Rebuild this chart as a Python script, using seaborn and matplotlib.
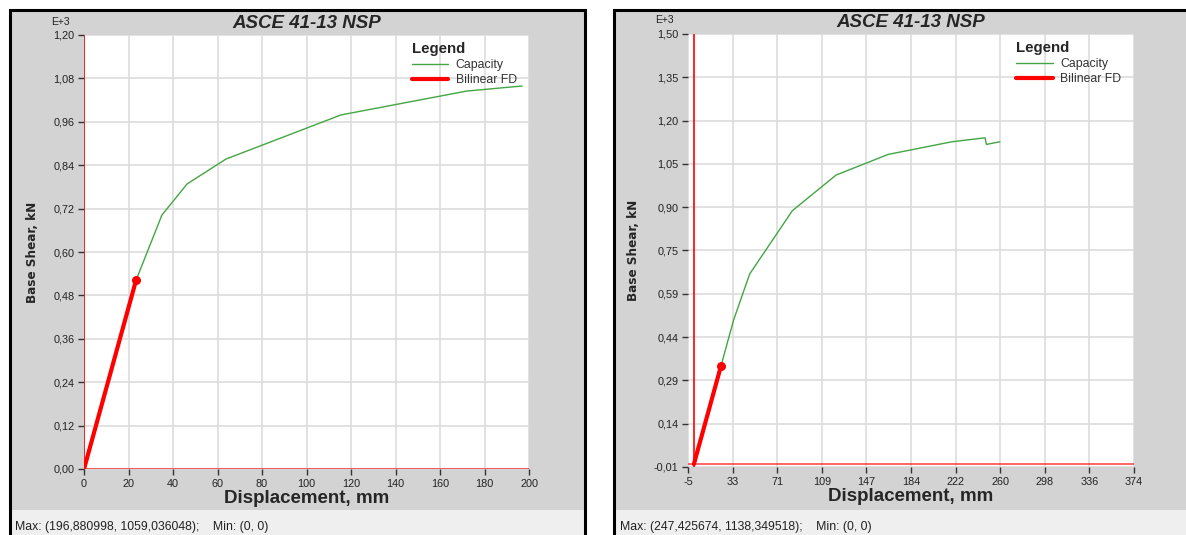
import numpy as np
import pandas as pd
import matplotlib
matplotlib.use("Agg")
import matplotlib.pyplot as plt
import seaborn as sns
from matplotlib.patches import Rectangle
from matplotlib.ticker import FixedLocator, FixedFormatter
from matplotlib import font_manager as fm

# ---------------- data (displacement mm, base shear kN x1000) ----------------
left_cap_disp = [0.0, 23.4, 35.0, 46.3, 63.8, 115.5, 172.0, 196.9]
left_cap_shear = [0.0, 0.522, 0.702, 0.788, 0.857, 0.979, 1.045, 1.059]
left_bil_disp = [0.0, 23.4]
left_bil_shear = [0.0, 0.522]

right_cap_disp = [0.0, 23.0, 33.8, 47.4, 83.7, 120.8, 165.0, 219.0, 247.4, 248.6, 260.0]
right_cap_shear = [0.0, 0.342, 0.503, 0.663, 0.884, 1.008, 1.080, 1.124, 1.138, 1.115, 1.124]
right_bil_disp = [0.0, 23.0]
right_bil_shear = [0.0, 0.342]

left_xtick_labels = ["0", "20", "40", "60", "80", "100", "120", "140", "160", "180", "200"]
left_ytick_labels = ["0,00", "0,12", "0,24", "0,36", "0,48", "0,60", "0,72", "0,84", "0,96", "1,08", "1,20"]
right_xtick_labels = ["-5", "33", "71", "109", "147", "184", "222", "260", "298", "336", "374"]
right_ytick_labels = ["-0,01", "0,14", "0,29", "0,44", "0,59", "0,75", "0,90", "1,05", "1,20", "1,35", "1,50"]

title_text = "ASCE 41-13 NSP"
left_status = "Max: (196,880998, 1059,036048);    Min: (0, 0)"
right_status = "Max: (247,425674, 1138,349518);    Min: (0, 0)"

# ---------------- figure ----------------
sns.set_style("white")
plt.rcParams['font.family'] = ['Liberation Sans', 'DejaVu Sans']

# condensed font for the y label if one is installed
ylab_kw = dict(fontsize=9.5, fontweight="bold", family=["Liberation Sans", "DejaVu Sans"])
for fam, stretch in [("Liberation Sans Narrow", "normal"), ("DejaVu Sans", "condensed")]:
    try:
        p = fm.findfont(fm.FontProperties(family=fam, stretch=stretch, weight="bold"),
                        fallback_to_default=False)
        if "Narrow" in p or "Condensed" in p:
            ylab_kw = dict(fontsize=9.6, fontweight="bold", family=[fam], fontstretch=stretch)
            break
    except Exception:
        pass

W, H = 1186, 535
fig = plt.figure(figsize=(W / 100, H / 100), dpi=100, facecolor="white")

GRAY = "#d3d3d3"
STATUS = "#efefef"
GREEN = "#43a543"
RED = "#ff0000"
GRID = "#dddddd"


def rect_px(x0, y0, x1, y1, z, **kw):
    r = Rectangle((x0 / W, 1 - y1 / H), (x1 - x0) / W, (y1 - y0) / H,
                  transform=fig.transFigure, zorder=z, **kw)
    fig.patches.append(r)


def axes_px(x0, y0, x1, y1):
    ax = fig.add_axes([x0 / W, 1 - y1 / H, (x1 - x0) / W, (y1 - y0) / H])
    ax.set_zorder(5)
    return ax


# panel backgrounds
rect_px(9, 9, 586, 510, -2, facecolor=GRAY, edgecolor="none")
rect_px(9, 510, 586, 540, -2, facecolor=STATUS, edgecolor="none")
rect_px(10, 10, 585, 545, -1, facecolor="none", edgecolor="black", lw=2.2)
rect_px(613, 9, 1190, 510, -2, facecolor=GRAY, edgecolor="none")
rect_px(613, 510, 1190, 540, -2, facecolor=STATUS, edgecolor="none")
rect_px(614, 10, 1195, 545, -1, facecolor="none", edgecolor="black", lw=2.2)


def setup(ax, xlim, ylim, xticks, xlabels, yticks, ylabels):
    ax.set_facecolor("white")
    ax.set_xlim(*xlim)
    ax.set_ylim(*ylim)
    ax.xaxis.set_major_locator(FixedLocator(xticks))
    ax.xaxis.set_major_formatter(FixedFormatter(xlabels))
    ax.yaxis.set_major_locator(FixedLocator(yticks))
    ax.yaxis.set_major_formatter(FixedFormatter(ylabels))
    ax.grid(True, color=GRID, lw=1.2)
    ax.set_axisbelow(True)
    for s in ax.spines.values():
        s.set_visible(False)
    ax.tick_params(axis="both", which="major", length=4, width=1, color="#333333",
                   labelsize=7.8, labelcolor="#222222", left=True, bottom=True, pad=3)
    ax.set_xlabel("Displacement, mm", fontsize=13.5, fontweight="bold", labelpad=1)
    ax.set_ylabel("Base Shear, kN", labelpad=10, **ylab_kw)
    ax.set_title(title_text, fontsize=13.5, fontweight="bold", fontstyle="italic", pad=5)
    ax.axvline(0, color=RED, lw=1.2, zorder=2)
    ax.axhline(0, color=RED, lw=1.2, alpha=0.7, zorder=2)


def draw(ax, cd, cs, bd, bs):
    cap = pd.DataFrame({"disp": cd, "shear": cs})
    bil = pd.DataFrame({"disp": bd, "shear": bs})
    sns.lineplot(data=cap, x="disp", y="shear", sort=False, estimator=None,
                 color=GREEN, lw=1.0, ax=ax, label="Capacity", zorder=3)
    sns.lineplot(data=bil, x="disp", y="shear", sort=False, estimator=None,
                 color=RED, lw=3.0, ax=ax, label="Bilinear FD", zorder=4,
                 marker="o", markevery=[len(bd) - 1], markersize=6.5,
                 markeredgewidth=0)
    leg = ax.legend(loc="upper left", bbox_to_anchor=(0.72, 1.0), frameon=False,
                    title="Legend", fontsize=8.8, handlelength=3.0, handletextpad=0.6,
                    labelspacing=0.25, borderaxespad=0.2)
    leg.get_title().set_fontweight("bold")
    leg.get_title().set_fontsize(10.8)
    leg._legend_box.align = "left"
    for h in leg.legend_handles:
        h.set_marker("")
    for t in leg.get_texts():
        t.set_color("#333333")


# left panel
axL = axes_px(84, 35, 529, 469)
setup(axL, (0, 200), (0, 1.20),
      [0, 20, 40, 60, 80, 100, 120, 140, 160, 180, 200], left_xtick_labels,
      np.linspace(0, 1.20, 11), left_ytick_labels)
draw(axL, left_cap_disp, left_cap_shear, left_bil_disp, left_bil_shear)

# right panel
axR = axes_px(688, 34, 1134, 467)
setup(axR, (-5, 374), (-0.01, 1.50),
      np.linspace(-5, 374, 11), right_xtick_labels,
      np.linspace(-0.01, 1.50, 11), right_ytick_labels)
draw(axR, right_cap_disp, right_cap_shear, right_bil_disp, right_bil_shear)

# E+3 multipliers and status text
fig.text(60 / W, 1 - 22 / H, "E+3", fontsize=7.5, color="#222222", ha="center", va="center")
fig.text(664 / W, 1 - 20 / H, "E+3", fontsize=7.5, color="#222222", ha="center", va="center")
fig.text(15 / W, 1 - 527 / H, left_status, fontsize=8.8, color="#222222", ha="left", va="center")
fig.text(620 / W, 1 - 527 / H, right_status, fontsize=8.8, color="#222222", ha="left", va="center")

fig.savefig("out.png", dpi=100, facecolor="white")
